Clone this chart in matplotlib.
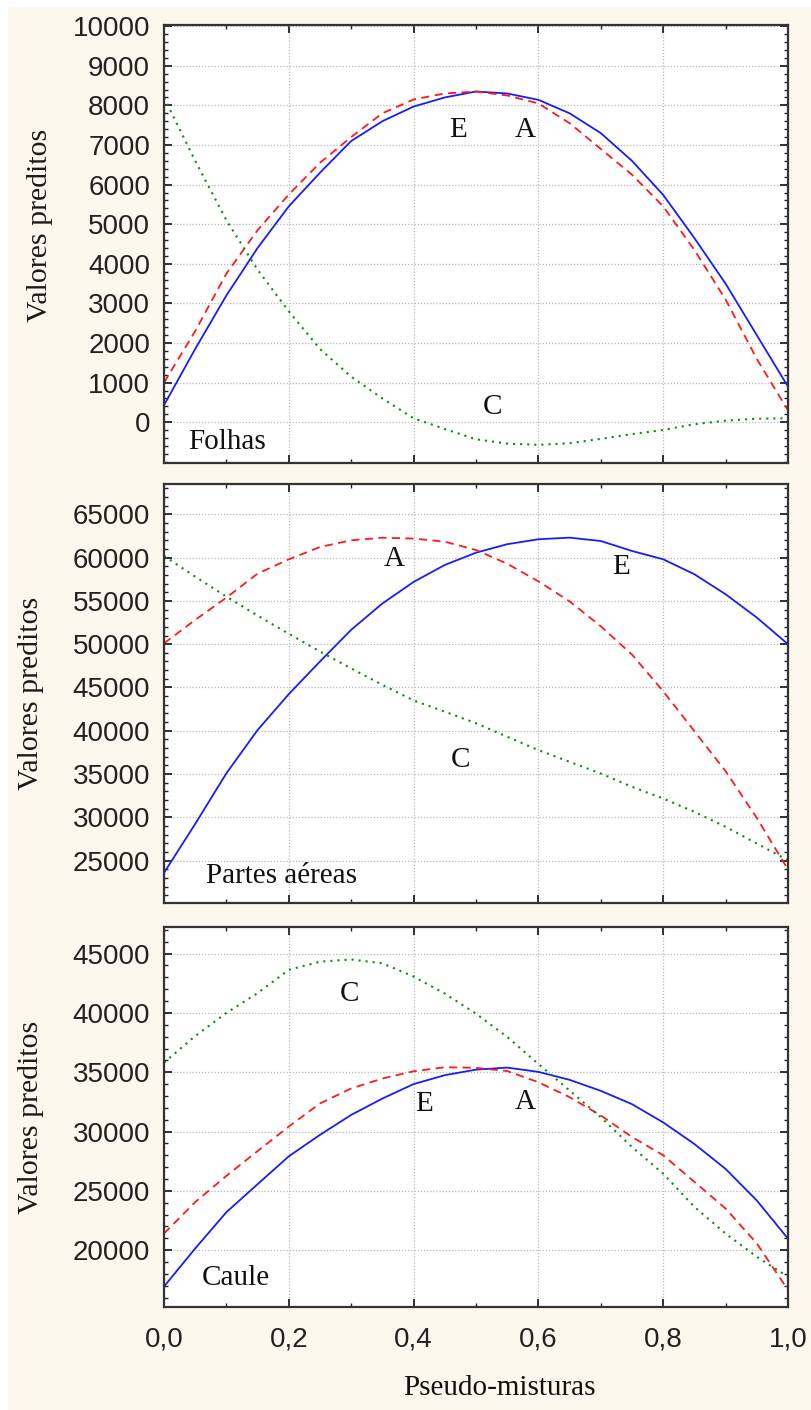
import numpy as np
import matplotlib.pyplot as plt
from matplotlib.ticker import MultipleLocator, FuncFormatter
from matplotlib.patches import Rectangle

# pseudo-mixture positions shared by all panels
mix = [0.0, 0.05, 0.10, 0.15, 0.20, 0.25, 0.30, 0.35, 0.40, 0.45, 0.50,
       0.55, 0.60, 0.65, 0.70, 0.75, 0.80, 0.85, 0.90, 0.95, 1.0]

# Folhas
folhas_E = [430, 1850, 3200, 4400, 5450, 6300, 7100, 7600, 7970, 8200, 8350,
            8300, 8140, 7800, 7300, 6600, 5740, 4650, 3500, 2200, 900]
folhas_A = [1000, 2300, 3750, 4850, 5750, 6550, 7200, 7800, 8150, 8300, 8350,
            8250, 8050, 7550, 6900, 6250, 5450, 4350, 3100, 1600, 300]
folhas_C = [8200, 6600, 5100, 3850, 2800, 1850, 1150, 600, 100, -170, -430,
            -540, -570, -530, -420, -300, -195, -50, 40, 90, 100]

# Partes aereas
partes_E = [23580, 29230, 35080, 40080, 44230, 48000, 51660, 54700, 57190, 59150, 60570,
            61550, 62120, 62310, 61920, 60770, 59810, 58080, 55770, 53080, 50000]
partes_A = [50100, 52800, 55380, 58150, 59800, 61230, 62000, 62300, 62200, 61840, 60880,
            59300, 57260, 54950, 52070, 48800, 44570, 39950, 35330, 29940, 23970]
partes_C = [60200, 57800, 55500, 53300, 51200, 49150, 47200, 45300, 43500, 42200, 40870,
            39300, 37760, 36410, 35060, 33520, 32170, 30630, 28900, 26970, 25040]

# Caule
caule_E = [16930, 20140, 23200, 25560, 27910, 29720, 31400, 32780, 34000, 34750, 35220,
           35390, 35030, 34360, 33430, 32310, 30770, 28950, 26850, 24190, 20970]
caule_A = [21400, 24050, 26260, 28350, 30420, 32370, 33630, 34470, 35080, 35420, 35370,
           35100, 34160, 32900, 31360, 29540, 28000, 25760, 23510, 20570, 16650]
caule_C = [35810, 38050, 40000, 41670, 43630, 44320, 44510, 44180, 43070, 41630, 39940,
           37980, 35700, 33460, 31210, 28690, 26450, 23650, 21400, 19440, 17760]

panels = [
    ("Folhas", folhas_E, folhas_A, folhas_C, (-1030, 10030), list(range(0, 10001, 1000)), 200,
     {"E": (0.471, 7380), "A": (0.579, 7380), "C": (0.527, 390)}, (0.038, -500)),
    ("Partes aéreas", partes_E, partes_A, partes_C, (20100, 68500), list(range(25000, 65001, 5000)), 1000,
     {"A": (0.369, 59800), "E": (0.733, 58880), "C": (0.475, 36630)}, (0.068, 23160)),
    ("Caule", caule_E, caule_A, caule_C, (15200, 47250), list(range(20000, 45001, 5000)), 1000,
     {"C": (0.297, 41630), "E": (0.417, 32300), "A": (0.579, 32500)}, (0.06, 17610)),
]

bg = "#fdf8ee"
serif = "Liberation Serif"
sans = "Liberation Sans"

fig = plt.figure(figsize=(8.11, 14.10), dpi=100, facecolor=bg)
# white scan border on the top and left
fig.patches.append(Rectangle((0, 1 - 7 / 1410), 1, 7 / 1410, transform=fig.transFigure,
                             facecolor="white", edgecolor="none", zorder=-1))
fig.patches.append(Rectangle((0, 0), 8 / 811, 1, transform=fig.transFigure,
                             facecolor="white", edgecolor="none", zorder=-1))

boxes = [(0.6716, 0.9823), (0.3596, 0.6567), (0.0730, 0.3426)]
left, width = 0.2022, 0.7694
label_x = [-0.178, -0.192, -0.192]
label_y = [0.543, 0.5, 0.5]

for i, (name, e, a, c, ylim, yticks, minor, labels, namepos) in enumerate(panels):
    bot, top = boxes[i]
    ax = fig.add_axes([left, bot, width, top - bot])
    ax.set_facecolor("white")

    ax.plot(mix, e, color="#1a1aff", lw=1.3, solid_joinstyle="round")
    ax.plot(mix, a, color="#ff1a1a", lw=1.3, linestyle=(0, (4.5, 3)))
    ax.plot(mix, c, color="#108a10", lw=1.5, linestyle=(0, (1, 2.4)))

    ax.set_xlim(0, 1)
    ax.set_ylim(*ylim)
    ax.set_yticks(yticks)
    ax.xaxis.set_major_locator(MultipleLocator(0.2))
    ax.xaxis.set_minor_locator(MultipleLocator(0.1))
    ax.yaxis.set_minor_locator(MultipleLocator(minor))
    ax.xaxis.set_major_formatter(FuncFormatter(lambda v, _: f"{v:.1f}".replace(".", ",")))

    ax.grid(True, which="major", color="#b8b8b8", linestyle=(0, (1, 1.5)), lw=0.9)
    ax.tick_params(which="both", direction="in", top=True, right=True,
                   colors="#222222", labelsize=20)
    ax.tick_params(which="major", length=6, width=1.3)
    ax.tick_params(which="minor", length=3, width=1.0)
    ax.tick_params(axis="y", pad=10)
    ax.tick_params(axis="x", pad=14)
    for lab in ax.get_xticklabels() + ax.get_yticklabels():
        lab.set_fontfamily(sans)
    for sp in ax.spines.values():
        sp.set_linewidth(1.6)
        sp.set_color("#333333")

    if i < 2:
        ax.tick_params(axis="x", labelbottom=False)

    ax.set_ylabel("Valores preditos", fontsize=21.5, family=serif, color="#1a1a1a")
    ax.yaxis.set_label_coords(label_x[i], label_y[i])

    for letter, (lx, ly) in labels.items():
        ax.text(lx, ly, letter, fontsize=21, family=serif, ha="center", va="center",
                color="#111111")
    ax.text(namepos[0], namepos[1], name, fontsize=21, family=serif, ha="left",
            va="center", color="#111111")

fig.text(499 / 811, 1 - 1388 / 1410, "Pseudo-misturas", fontsize=21, family=serif,
         ha="center", va="center", color="#111111")

fig.savefig("out.png", dpi=100, facecolor=bg)
